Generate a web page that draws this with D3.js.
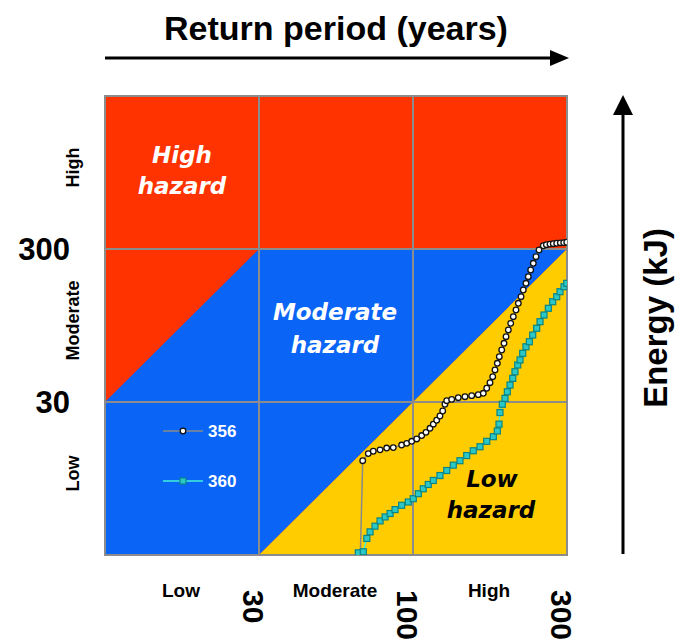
<!DOCTYPE html>
<html>
<head>
<meta charset="utf-8">
<script src="https://cdn.jsdelivr.net/npm/d3@7"></script>
<style>
  html, body { margin: 0; padding: 0; background: #fff; }
  svg { display: block; }
</style>
</head>
<body>
<script>
// ---------------- DATA ----------------
const xTickValues = [30, 100, 300];           // return period (years)
const yTickValues = [30, 300];                // energy (kJ)
const xCategories = ["Low", "Moderate", "High"];
const yCategories = ["Low", "Moderate", "High"];
const xBounds = [9, 30, 100, 300];
const yBounds = [3, 30, 300, 3000];

// hazard zones (return period, energy)
const moderateZone = [[9, 3], [9, 30], [30, 300], [300, 300], [30, 3]];
const lowZone = [[30, 3], [300, 300], [300, 3]];

const seriesNames = ["356", "360"];
// series 356: [return period, energy]
const series356 = [
  [66.1, 2.5], [67.5, 12.4], [70.5, 13.8], [73.3, 14.3], [77.3, 14.6], [81.4, 15.0],
  [85.7, 15.1], [91.5, 15.7], [95.2, 16.1], [99.0, 16.6], [102.7, 17.2], [106.4, 18.1],
  [109.7, 19.0], [112.9, 20.2], [115.6, 21.5], [118.4, 22.8], [121.2, 24.3], [123.6, 26.2],
  [125.6, 29.0], [127.2, 30.6], [131.8, 31.2], [138.1, 32.0], [144.9, 32.5], [152.0, 33.0],
  [159.3, 33.5], [165.1, 34.2], [169.2, 36.9], [173.2, 40.1], [176.6, 43.9], [179.5, 48.6],
  [182.5, 53.7], [185.1, 59.3], [188.3, 65.6], [191.4, 72.6], [194.2, 80.2], [197.4, 88.7],
  [200.8, 98.0], [204.5, 108.3], [208.5, 119.8], [212.0, 132.5], [216.1, 146.3], [219.6, 161.9],
  [223.9, 179.0], [227.6, 197.8], [231.5, 218.7], [235.9, 241.9], [240.5, 267.2], [245.7, 295.5],
  [253.3, 315], [259.0, 320], [265.7, 323], [272.0, 325], [278.8, 327], [286.0, 329],
  [293.0, 330], [299.4, 332]
];
// series 360: [return period, energy]
const series360 = [
  [65.2, 3.1], [67.8, 3.15], [69.7, 3.85], [71.5, 4.25], [74.3, 4.63], [77.3, 5.01],
  [80.4, 5.32], [83.6, 5.60], [86.9, 5.94], [91.5, 6.34], [96.4, 6.66], [100.2, 7.00],
  [103.9, 7.55], [107.6, 8.13], [111.5, 8.67], [115.6, 9.21], [121.2, 9.92], [127.2, 10.7],
  [133.3, 11.6], [139.8, 12.4], [146.7, 13.4], [153.7, 14.4], [161.3, 15.3], [169.2, 16.6],
  [177.4, 17.8], [182.5, 19.4], [184.7, 21.5], [186.0, 25.6], [189.1, 29.0], [192.8, 31.7],
  [196.0, 35.0], [199.8, 38.7], [203.7, 42.8], [207.0, 47.3], [211.1, 52.4], [214.6, 56.5],
  [218.7, 62.4], [223.9, 68.9], [229.3, 74.3], [234.9, 82.2], [241.6, 91.0], [247.5, 100.5],
  [254.6, 111.1], [262.6, 122.9], [270.9, 135.7], [278.8, 146.3], [285.4, 157.8], [293.7, 170.1],
  [299.4, 179.0]
];

// ---------------- LAYOUT ----------------
const W = 678, H = 644;
const pL = 105, pR = 567, pT = 96, pB = 555;

const svg = d3.select("body").append("svg").attr("width", W).attr("height", H);

const x = d3.scaleLog().domain(xBounds)
  .range([pL, pL + (pR - pL) / 3, pL + 2 * (pR - pL) / 3, pR]);
const y = d3.scaleLog().domain(yBounds)
  .range([pB, pB - (pB - pT) / 3, pB - 2 * (pB - pT) / 3, pT]);

const COL_RED = "#FF3300", COL_BLUE = "#0A64F5", COL_YEL = "#FFCC00", COL_GRID = "#8C8C8C";

svg.append("defs").append("clipPath").attr("id", "plotclip")
  .append("rect").attr("x", pL).attr("y", pT)
  .attr("width", pR - pL).attr("height", pB - pT);

// zones
svg.append("rect").attr("x", pL).attr("y", pT)
  .attr("width", pR - pL).attr("height", pB - pT).attr("fill", COL_RED);
const poly = d3.line().x(d => x(d[0])).y(d => y(d[1]));
svg.append("path").attr("d", poly(moderateZone) + "Z").attr("fill", COL_BLUE);
svg.append("path").attr("d", poly(lowZone) + "Z").attr("fill", COL_YEL);

// grid
const g = svg.append("g").attr("stroke", COL_GRID).attr("stroke-width", 2).attr("fill", "none");
xTickValues.slice(0, 2).forEach(v => g.append("line").attr("x1", x(v)).attr("x2", x(v)).attr("y1", pT).attr("y2", pB));
yTickValues.forEach(v => g.append("line").attr("x1", pL).attr("x2", pR).attr("y1", y(v)).attr("y2", y(v)));
g.append("rect").attr("x", pL).attr("y", pT).attr("width", pR - pL).attr("height", pB - pT);

// zone labels
const hz = svg.append("g").attr("font-family", "DejaVu Sans, sans-serif")
  .attr("font-weight", "bold").attr("font-style", "italic").attr("font-size", 23)
  .attr("text-anchor", "middle");
hz.append("text").attr("x", 182).attr("y", 163).attr("fill", "#fff").text("High");
hz.append("text").attr("x", 182).attr("y", 194).attr("fill", "#fff").text("hazard");
hz.append("text").attr("x", 335).attr("y", 320).attr("fill", "#fff").text("Moderate");
hz.append("text").attr("x", 335).attr("y", 353).attr("fill", "#fff").text("hazard");
hz.append("text").attr("x", 492).attr("y", 487).attr("fill", "#000").text("Low");
hz.append("text").attr("x", 491).attr("y", 518).attr("fill", "#000").text("hazard");

// series
const plot = svg.append("g").attr("clip-path", "url(#plotclip)");
plot.append("path").datum(series356).attr("d", poly)
  .attr("fill", "none").attr("stroke", "#8A8A8A").attr("stroke-width", 1.5);
plot.append("path").datum(series360).attr("d", poly)
  .attr("fill", "none").attr("stroke", "#3FF0D8").attr("stroke-width", 1.5);
plot.selectAll("rect.m360").data(series360).enter().append("rect")
  .attr("x", d => x(d[0]) - 3).attr("y", d => y(d[1]) - 3)
  .attr("width", 6).attr("height", 6)
  .attr("fill", "#2CC8C8").attr("stroke", "#0B8585").attr("stroke-width", 1.2);
plot.selectAll("circle.m356").data(series356).enter().append("circle")
  .attr("cx", d => x(d[0])).attr("cy", d => y(d[1])).attr("r", 2.8)
  .attr("fill", "#fff").attr("stroke", "#111").attr("stroke-width", 1.3);

// legend
const lg = svg.append("g").attr("font-family", "Liberation Sans, Arial, sans-serif")
  .attr("font-weight", "bold").attr("font-size", 17).attr("fill", "#fff");
lg.append("line").attr("x1", 163).attr("x2", 203).attr("y1", 431).attr("y2", 431)
  .attr("stroke", "#8A8A8A").attr("stroke-width", 1.5);
lg.append("circle").attr("cx", 183).attr("cy", 431).attr("r", 2.8)
  .attr("fill", "#fff").attr("stroke", "#111").attr("stroke-width", 1.3);
lg.append("text").attr("x", 208).attr("y", 437).text(seriesNames[0]);
lg.append("line").attr("x1", 163).attr("x2", 203).attr("y1", 481).attr("y2", 481)
  .attr("stroke", "#3FF0D8").attr("stroke-width", 1.5);
lg.append("rect").attr("x", 180).attr("y", 478).attr("width", 6).attr("height", 6)
  .attr("fill", "#2CC8C8").attr("stroke", "#0B8585").attr("stroke-width", 1.2);
lg.append("text").attr("x", 208).attr("y", 487).text(seriesNames[1]);

// ---------- axes text ----------
const font = "Liberation Sans, Arial, sans-serif";
// title + arrow
svg.append("text").attr("x", 336).attr("y", 40).attr("text-anchor", "middle")
  .attr("font-family", font).attr("font-weight", "bold").attr("font-size", 34)
  .attr("fill", "#000").text("Return period (years)");
svg.append("line").attr("x1", pL).attr("x2", 552).attr("y1", 58).attr("y2", 58)
  .attr("stroke", "#000").attr("stroke-width", 3);
svg.append("path").attr("d", "M550,50 L569,58 L550,66 Z").attr("fill", "#000");

// right arrow + label
svg.append("line").attr("x1", 623).attr("x2", 623).attr("y1", 554).attr("y2", 112)
  .attr("stroke", "#000").attr("stroke-width", 3);
svg.append("path").attr("d", "M613,115 L623,95 L633,115 Z").attr("fill", "#000");
svg.append("text").attr("transform", "translate(667,318) rotate(-90)")
  .attr("text-anchor", "middle").attr("font-family", font).attr("font-weight", "bold")
  .attr("font-size", 33).attr("fill", "#000").text("Energy (kJ)");

// y tick numbers
svg.selectAll("text.ytick").data(yTickValues).enter().append("text")
  .attr("x", 70).attr("y", d => y(d) + 11).attr("text-anchor", "end")
  .attr("font-family", font).attr("font-weight", "bold").attr("font-size", 31)
  .attr("fill", "#000").text(d => d);

// y category labels (rotated)
const yCatCenters = [
  Math.sqrt(yBounds[0] * yBounds[1]), Math.sqrt(yBounds[1] * yBounds[2]), Math.sqrt(yBounds[2] * yBounds[3])
];
svg.selectAll("text.ycat").data(yCategories).enter().append("text")
  .attr("transform", (d, i) => `translate(79,${y(yCatCenters[i]) - 5}) rotate(-90)`)
  .attr("text-anchor", "middle").attr("font-family", font).attr("font-weight", "bold")
  .attr("font-size", 18).attr("fill", "#000").text(d => d);

// x category labels
const xCatCenters = [
  Math.sqrt(xBounds[0] * xBounds[1]), Math.sqrt(xBounds[1] * xBounds[2]), Math.sqrt(xBounds[2] * xBounds[3])
];
svg.selectAll("text.xcat").data(xCategories).enter().append("text")
  .attr("x", (d, i) => x(xCatCenters[i]) - 1).attr("y", 597)
  .attr("text-anchor", "middle").attr("font-family", font).attr("font-weight", "bold")
  .attr("font-size", 19).attr("fill", "#000").text(d => d);

// x tick numbers (rotated 90)
svg.selectAll("text.xtick").data(xTickValues).enter().append("text")
  .attr("transform", d => `translate(${x(d) - 16},590) rotate(90)`)
  .attr("text-anchor", "start").attr("font-family", font).attr("font-weight", "bold")
  .attr("font-size", 30).attr("fill", "#000").text(d => d);
</script>
</body>
</html>
